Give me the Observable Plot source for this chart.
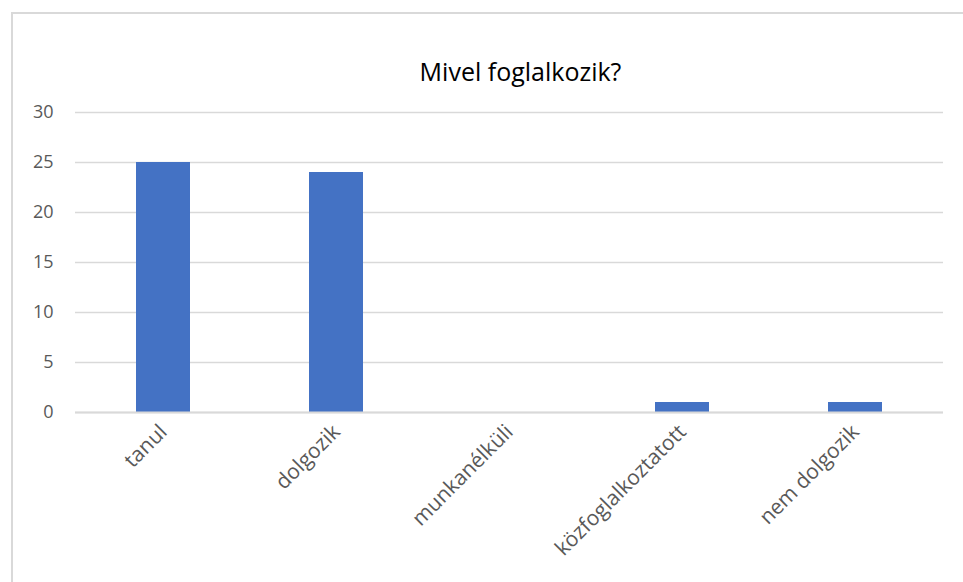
<!DOCTYPE html>
<html><head><meta charset="utf-8">
<script src="https://cdn.jsdelivr.net/npm/d3@7"></script>
<script src="https://cdn.jsdelivr.net/npm/@observablehq/plot@0.6"></script>
<style>
body{margin:0;background:#fff;font-family:"Open Sans",sans-serif;}
#wrap{position:relative;width:963px;height:582px;overflow:hidden;}
#frame{position:absolute;left:11px;top:12px;width:960px;height:580px;border:2px solid #d9d9d9;box-sizing:border-box;}
#title{position:absolute;left:0;width:963px;top:54px;text-align:center;font-size:25px;color:#000;padding-left:78px;box-sizing:border-box;}
#chart{position:absolute;left:0;top:0;}
</style></head>
<body><div id="wrap"><div id="frame"></div><div id="title">Mivel foglalkozik?</div><div id="chart"></div></div>
<script>
const categories = ["tanul","dolgozik","munkanélküli","közfoglalkoztatott","nem dolgozik"];
const values = [25,24,0,1,1];
const yTicks = [0,5,10,15,20,25,30];
const data = categories.map((c,i)=>({cat:c,val:values[i]}));
const plot = Plot.plot({
  width:963, height:582,
  marginLeft:75, marginRight:20, marginTop:112, marginBottom:170,
  style:{fontFamily:"Open Sans, sans-serif", fontSize:"18px", color:"#595959", background:"transparent"},
  x:{domain:categories, paddingInner:0.69, paddingOuter:0.345, align:0.5, label:null},
  y:{domain:[0,30], label:null},
  marks:[
    Plot.gridY(yTicks,{stroke:"#d9d9d9", strokeOpacity:1, strokeWidth:1.5}),
    Plot.barY(data,{x:"cat", y:"val", fill:"#4472C4"}),
    Plot.ruleY([0],{stroke:"#d9d9d9", strokeWidth:2}),
    Plot.axisY(yTicks,{tickSize:0, tickPadding:22, label:null, fill:"#595959", fontSize:18}),
    Plot.axisX({tickSize:0, tickRotate:-45, tickPadding:16, label:null, fill:"#595959", fontSize:21, dx:0})
  ]
});
document.getElementById("chart").appendChild(plot);
</script></body></html>
